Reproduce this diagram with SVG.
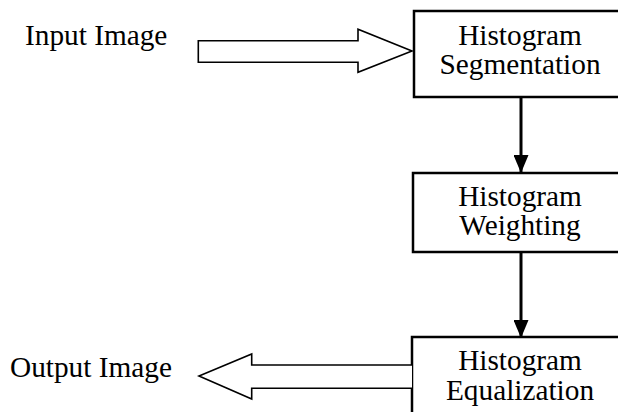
<svg xmlns="http://www.w3.org/2000/svg" width="618" height="412" viewBox="0 0 618 412">
<style>
  .box { fill: #ffffff; stroke: #000000; stroke-width: 2.5; }
  .t { font-family: "Liberation Serif", "Times New Roman", serif; font-size: 29.3px; fill: #000000; }
  .c { text-anchor: middle; }
  .fat { fill: #ffffff; stroke: #000000; stroke-width: 1.6; stroke-linejoin: miter; }
  .conn { stroke: #000000; stroke-width: 3; fill: none; }
</style>
<defs>
  <marker id="ah" markerWidth="18" markerHeight="15" refX="18" refY="7.5" orient="auto" markerUnits="userSpaceOnUse">
    <path d="M0,0 L18,7.5 L0,15 Z" fill="#000000"/>
  </marker>
</defs>
<rect width="618" height="412" fill="#ffffff"/>

<g id="input-label">
  <text class="t" x="25" y="45">Input Image</text>
</g>
<g id="output-label">
  <text class="t" x="10" y="377">Output Image</text>
</g>

<g id="segmentation">
  <rect class="box" x="414" y="11" width="220" height="86"/>
  <text class="t c" x="520" y="45">Histogram</text>
  <text class="t c" x="520" y="74">Segmentation</text>
</g>
<g id="weighting">
  <rect class="box" x="413" y="173" width="220" height="79"/>
  <text class="t c" x="520" y="206">Histogram</text>
  <text class="t c" x="520" y="235">Weighting</text>
</g>
<g id="equalization">
  <rect class="box" x="412" y="337" width="220" height="90"/>
  <text class="t c" x="520" y="370">Histogram</text>
  <text class="t c" x="520" y="400">Equalization</text>
</g>

<g id="connectors">
  <path class="fat" d="M198.3,40.7 L358,40.7 L358,29.3 L412,51 L358,72.3 L358,62.3 L198.3,62.3 Z"/>
  <path class="fat" d="M412,365 L251.7,365 L251.7,354 L199,376 L251.7,399 L251.7,388.3 L412,388.3"/>
  <line class="conn" x1="521" y1="97" x2="521" y2="173" marker-end="url(#ah)"/>
  <line class="conn" x1="521" y1="252" x2="521" y2="338" marker-end="url(#ah)"/>
</g>
</svg>
